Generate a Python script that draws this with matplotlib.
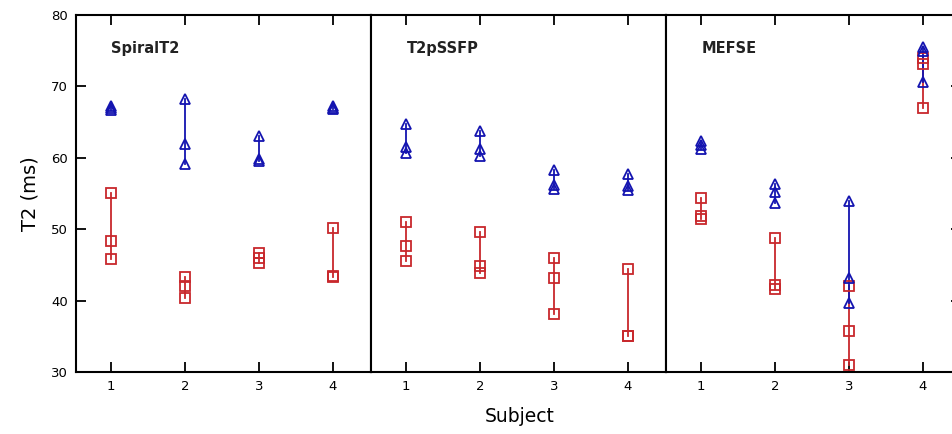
import matplotlib
matplotlib.use('Agg')
import matplotlib.pyplot as plt

# three repeated T2 measurements per subject, one list per subject
subjects = [1, 2, 3, 4]
methods = ['SpiralT2', 'T2pSSFP', 'MEFSE']

spiral_tri = [[67.3, 67.0, 66.7], [68.3, 62.0, 59.2], [63.0, 59.8, 59.5], [67.2, 67.0, 66.8]]
spiral_sq = [[55.0, 48.4, 45.8], [43.3, 42.0, 40.3], [46.6, 45.9, 45.3], [50.2, 43.5, 43.3]]

ssfp_tri = [[64.7, 61.5, 60.7], [63.7, 61.3, 60.2], [58.3, 56.2, 55.7], [57.8, 56.1, 55.5]]
ssfp_sq = [[51.0, 47.6, 45.5], [49.6, 44.8, 43.9], [46.0, 43.2, 38.1], [44.4, 35.0, 35.0]]

mefse_tri = [[62.4, 61.8, 61.2], [56.3, 55.2, 53.6], [54.0, 43.2, 39.7], [75.5, 75.0, 70.6]]
mefse_sq = [[54.3, 51.8, 51.4], [48.8, 42.2, 41.6], [42.0, 35.7, 31.0], [74.0, 73.2, 67.0]]

tri_data = [spiral_tri, ssfp_tri, mefse_tri]
sq_data = [spiral_sq, ssfp_sq, mefse_sq]

blue = '#1414b0'
red = '#c8282c'

fig = plt.figure(figsize=(9.52, 4.34), dpi=100)
W, H = 952.0, 434.0
lefts = [76, 371, 666]
pw = 295
top, bot = 15, 372

axes = []
for i, name in enumerate(methods):
    ax = fig.add_axes([lefts[i] / W, (H - bot) / H, pw / W, (bot - top) / H])
    axes.append(ax)
    for j, s in enumerate(subjects):
        for vals, col, mk in ((sq_data[i][j], red, 's'), (tri_data[i][j], blue, '^')):
            ax.plot([s, s], [min(vals), max(vals)], color=col, lw=1.3, zorder=2)
            ax.plot([s] * len(vals), vals, linestyle='none', marker=mk, ms=6.5,
                    mfc='none', mec=col, mew=1.3, zorder=3)
    ax.set_xlim(0.527, 4.515)
    ax.set_ylim(30, 80)
    ax.set_xticks(subjects)
    ax.set_yticks([30, 40, 50, 60, 70, 80])
    ax.tick_params(direction='in', length=7, width=1.3, labelsize=9.5, top=True,
                   left=(i == 0), right=(i == 2), labelleft=(i == 0), pad=6)
    for sp in ax.spines.values():
        sp.set_linewidth(1.5)
    ax.text(0.12, 0.905, name, transform=ax.transAxes, fontsize=10.5,
            fontweight='bold', color='#222222', va='center')

axes[0].set_ylabel('T2 (ms)', fontsize=14, labelpad=8)
fig.text(520 / W, 1 - 416 / H, 'Subject', fontsize=13.5, ha='center', va='center')

fig.savefig('out.png', dpi=100)
